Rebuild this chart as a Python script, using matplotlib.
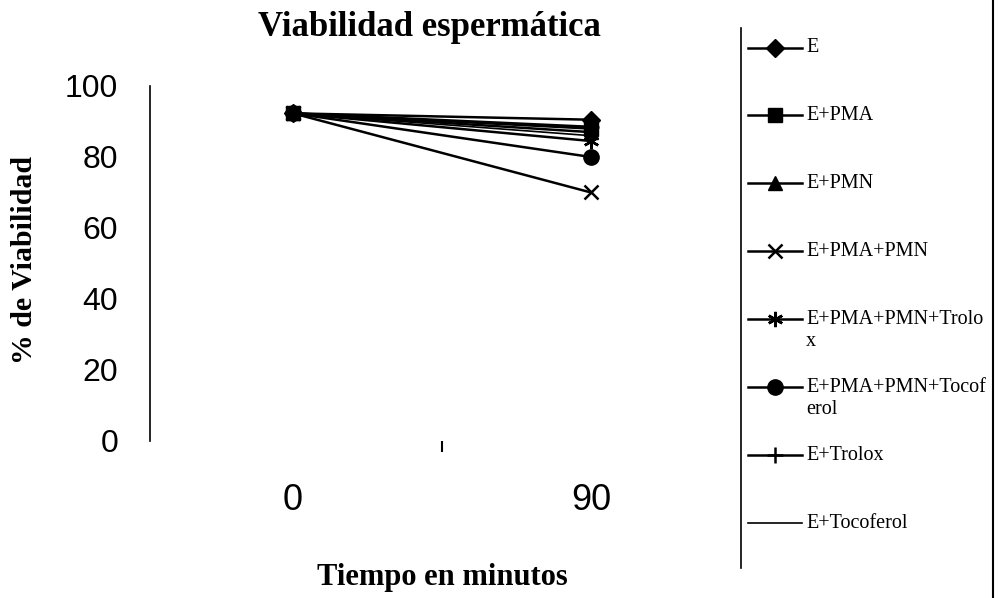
import matplotlib
matplotlib.use("Agg")
import matplotlib.pyplot as plt
from matplotlib.lines import Line2D

times = ["0", "90"]
series_names = ["E", "E+PMA", "E+PMN", "E+PMA+PMN", "E+PMA+PMN+Trolox",
                "E+PMA+PMN+Tocoferol", "E+Trolox", "E+Tocoferol"]
legend_labels = ["E", "E+PMA", "E+PMN", "E+PMA+PMN", "E+PMA+PMN+Trolo\nx",
                 "E+PMA+PMN+Tocof\nerol", "E+Trolox", "E+Tocoferol"]
viab_E = [92.3, 90.5]
viab_E_PMA = [92.3, 88.0]
viab_E_PMN = [92.3, 87.0]
viab_E_PMA_PMN = [92.3, 70.0]
viab_E_PMA_PMN_Trolox = [92.3, 84.5]
viab_E_PMA_PMN_Tocoferol = [92.3, 80.0]
viab_E_Trolox = [92.3, 88.5]
viab_E_Tocoferol = [92.3, 86.0]
values = [viab_E, viab_E_PMA, viab_E_PMN, viab_E_PMA_PMN, viab_E_PMA_PMN_Trolox,
          viab_E_PMA_PMN_Tocoferol, viab_E_Trolox, viab_E_Tocoferol]
yticks = [0, 20, 40, 60, 80, 100]

styles = [
    dict(marker="D", ms=9),
    dict(marker="s", ms=10),
    dict(marker="^", ms=10),
    dict(marker="x", ms=10, mew=1.8),
    dict(marker=(6, 2, 0), ms=11, mew=1.8),
    dict(marker="o", ms=11),
    dict(marker="+", ms=12, mew=1.8),
    dict(marker=None),
]

W, H = 1000, 598
fig = plt.figure(figsize=(W / 100, H / 100), dpi=100)
y0, y100 = 441, 86
ax = fig.add_axes([150 / W, 1 - y0 / H, 590 / W, (y0 - y100) / H])

x = list(range(len(times)))
for i, (vals, st, name) in enumerate(zip(values, styles, series_names)):
    lw = 1.2 if st["marker"] is None else 1.8
    ax.plot(x, vals, color="black", lw=lw, label=name, zorder=3 if i != 1 else 4,
            markerfacecolor="black", markeredgecolor="black", **st)

ax.set_xlim(-0.48, 1.5)
ax.set_ylim(0, 100)
ax.set_yticks(yticks)
ax.set_yticklabels([str(v) for v in yticks], fontfamily="Liberation Sans", fontsize=23)
ax.tick_params(axis="y", length=0, pad=23)
ax.set_xticks(x)
ax.set_xticklabels(times, fontfamily="Liberation Sans", fontsize=26)
ax.tick_params(axis="x", length=0, pad=30)
ax.set_xticks([0.5], minor=True)
ax.tick_params(axis="x", which="minor", length=8, width=1.5, direction="out")
for s in ["top", "right", "bottom"]:
    ax.spines[s].set_visible(False)
ax.spines["left"].set_linewidth(1.2)
ax.spines["left"].set_bounds(0, 100)

fig.text(429 / W, 1 - 36 / H, "Viabilidad espermática", ha="center", va="baseline",
         fontfamily="Liberation Serif", fontweight="bold", fontsize=25)
fig.text(25 / W, 1 - 260 / H, "% de Viabilidad", ha="center", va="center", rotation=90,
         fontfamily="Liberation Serif", fontweight="bold", fontsize=21.5)
fig.text(442 / W, 1 - 585 / H, "Tiempo en minutos", ha="center", va="baseline",
         fontfamily="Liberation Serif", fontweight="bold", fontsize=22)

# legend drawn manually to match the reference layout
leg_y = [48, 115, 183, 251, 319, 387, 455, 523]
for yy, st, lab in zip(leg_y, styles, legend_labels):
    lw = 1.2 if st["marker"] is None else 1.8
    fig.add_artist(Line2D([748 / W, 802 / W], [1 - yy / H, 1 - yy / H],
                          transform=fig.transFigure, color="black", lw=lw))
    if st["marker"] is not None:
        fig.add_artist(Line2D([775 / W], [1 - yy / H], transform=fig.transFigure,
                              color="black", lw=0, markerfacecolor="black",
                              markeredgecolor="black", **st))
    first, *rest = lab.split("\n")
    fig.text(806 / W, 1 - yy / H, first, ha="left", va="center",
             fontfamily="Liberation Serif", fontsize=14.5)
    if rest:
        fig.text(806 / W, 1 - (yy + 22) / H, rest[0], ha="left", va="center",
                 fontfamily="Liberation Serif", fontsize=14.5)

fig.add_artist(Line2D([741 / W, 741 / W], [1 - 28 / H, 1 - 568 / H],
                      transform=fig.transFigure, color="black", lw=1.2))
fig.add_artist(Line2D([993 / W, 993 / W], [1.0, 0.0],
                      transform=fig.transFigure, color="black", lw=1.5))

fig.savefig("out.png", dpi=100)
